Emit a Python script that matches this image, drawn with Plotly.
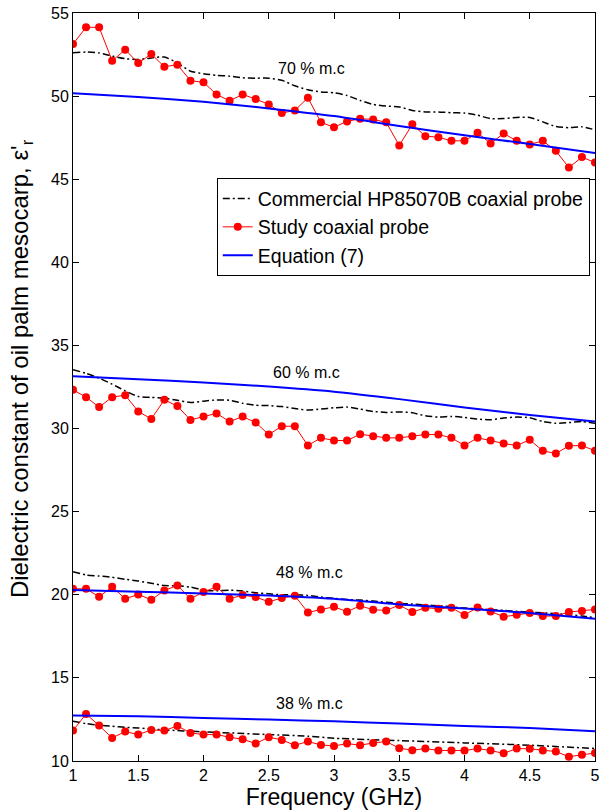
import plotly.graph_objects as go

freq = [round(1.0 + 0.1 * i, 1) for i in range(41)]

# Study coaxial probe (red)
study_70 = [53.13, 54.14, 54.14, 52.13, 52.79, 51.99, 52.53, 51.77, 51.89, 50.93,
            50.83, 50.10, 49.72, 50.10, 49.82, 49.50, 48.98, 49.14, 49.90, 48.42,
            48.13, 48.48, 48.64, 48.60, 48.42, 47.03, 48.30, 47.59, 47.53, 47.31,
            47.31, 47.79, 47.15, 47.75, 47.31, 47.09, 47.31, 46.71, 45.70, 46.33, 46.00]
study_60 = [32.33, 31.89, 31.29, 31.89, 32.01, 31.03, 30.58, 31.73, 31.35, 30.52,
            30.72, 30.91, 30.42, 30.72, 30.36, 29.64, 30.14, 30.14, 28.98, 29.44,
            29.28, 29.28, 29.66, 29.54, 29.44, 29.44, 29.54, 29.64, 29.64, 29.44,
            28.98, 29.44, 29.28, 29.10, 28.98, 29.32, 28.66, 28.50, 28.96, 28.98, 28.66]
study_48 = [20.36, 20.36, 19.88, 20.48, 19.76, 20.02, 19.70, 20.26, 20.56, 19.76,
            20.16, 20.48, 19.76, 19.98, 19.86, 19.58, 19.80, 19.94, 18.94, 19.12,
            19.28, 18.98, 19.34, 19.10, 19.06, 19.38, 18.96, 19.22, 19.16, 19.22,
            18.78, 19.24, 19.00, 18.68, 18.80, 18.90, 18.72, 18.72, 18.96, 19.02, 19.12]
study_38 = [11.83, 12.83, 12.13, 11.39, 11.77, 11.59, 11.87, 11.83, 12.11, 11.69,
            11.59, 11.59, 11.43, 11.31, 11.05, 11.43, 11.27, 10.95, 11.17, 10.97,
            10.90, 11.05, 10.95, 11.09, 11.17, 10.77, 10.65, 10.75, 10.63, 10.63,
            10.63, 10.75, 10.63, 10.46, 10.75, 10.73, 10.63, 10.57, 10.26, 10.38, 10.48]

# Commercial HP85070B coaxial probe (black dash-dot)
comm_70 = [52.61, 52.65, 52.60, 52.41, 52.25, 52.20, 52.30, 52.35, 52.00, 51.50,
           51.35, 51.25, 51.20, 51.10, 51.08, 51.08, 50.95, 50.62, 50.38, 50.25,
           50.20, 50.04, 49.74, 49.50, 49.40, 49.35, 49.14, 49.05, 49.05, 49.00,
           48.98, 48.85, 48.65, 48.65, 48.72, 48.72, 48.45, 48.17, 48.10, 48.15, 47.97]
comm_60 = [33.54, 33.32, 33.03, 32.67, 32.27, 31.93, 31.87, 31.83, 31.70, 31.57,
           31.65, 31.72, 31.70, 31.52, 31.40, 31.38, 31.32, 31.21, 31.11, 31.17,
           31.25, 31.29, 31.17, 31.03, 30.97, 31.00, 30.95, 30.77, 30.69, 30.73,
           30.67, 30.57, 30.53, 30.63, 30.69, 30.65, 30.42, 30.32, 30.36, 30.42, 30.32]
comm_48 = [21.39, 21.19, 21.13, 21.05, 20.93, 20.83, 20.69, 20.56, 20.54, 20.46,
           20.28, 20.24, 20.28, 20.22, 20.12, 20.06, 20.00, 20.00, 19.96, 19.86,
           19.78, 19.72, 19.68, 19.62, 19.55, 19.48, 19.44, 19.38, 19.34, 19.28,
           19.20, 19.16, 19.10, 19.06, 19.00, 18.96, 18.92, 18.86, 18.80, 18.72, 18.62]
comm_38_freq = [1.0, 1.1, 1.2, 1.3, 1.4, 1.5, 1.6, 1.7, 1.8, 1.9, 2.0, 2.2, 2.5, 2.8,
                3.0, 3.5, 4.0, 4.5, 5.0]
comm_38 = [12.39, 12.25, 12.15, 12.09, 12.03, 11.99, 11.93, 11.87, 11.83, 11.79,
           11.75, 11.69, 11.59, 11.49, 11.37, 11.23, 11.09, 10.95, 10.75]

# Equation (7) (blue)
eq_freq = [1.0, 1.5, 2.0, 2.5, 3.0, 3.5, 4.0, 4.5, 5.0]
eq_70 = [50.17, 49.94, 49.66, 49.26, 48.80, 48.20, 47.64, 47.12, 46.57]
eq_60 = [33.15, 32.97, 32.77, 32.53, 32.22, 31.77, 31.27, 30.81, 30.42]
eq_48 = [20.28, 20.18, 20.08, 19.96, 19.76, 19.42, 19.18, 18.90, 18.56]
eq_38 = [12.73, 12.69, 12.59, 12.49, 12.39, 12.25, 12.11, 11.99, 11.79]

labels = ["70 % m.c", "60 % m.c", "48 % m.c", "38 % m.c"]
label_x = [2.83, 2.79, 2.81, 2.81]
label_y = [51.65, 33.35, 21.33, 13.43]

groups = [
    (freq, comm_70, study_70, eq_70),
    (freq, comm_60, study_60, eq_60),
    (freq, comm_48, study_48, eq_48),
    (comm_38_freq, comm_38, study_38, eq_38),
]

fig = go.Figure()
for i, (cx, cy, sy, ey) in enumerate(groups):
    first = i == 0
    fig.add_trace(go.Scatter(
        x=cx, y=cy, mode="lines", name="Commercial HP85070B coaxial probe",
        legendgroup="c", showlegend=first,
        line=dict(color="black", width=1.5, dash="7px,3px,2px,3px", shape="spline", smoothing=0.6)))
    fig.add_trace(go.Scatter(
        x=freq, y=sy, mode="lines+markers", name="Study coaxial probe",
        legendgroup="s", showlegend=first,
        line=dict(color="#ff0000", width=1), marker=dict(color="#ff0000", size=8)))
    fig.add_trace(go.Scatter(
        x=eq_freq, y=ey, mode="lines", name="Equation (7)",
        legendgroup="e", showlegend=first,
        line=dict(color="#0000ff", width=2, shape="spline", smoothing=0.6)))

for t, lx, ly in zip(labels, label_x, label_y):
    fig.add_annotation(x=lx, y=ly, text=t, showarrow=False,
                       font=dict(size=16, color="black", family="Liberation Sans, Arial"))

# y-axis title placed as a rotated annotation
fig.add_annotation(xref="paper", yref="paper", x=-0.1, y=0.525,
                   text="Dielectric constant of oil palm mesocarp, ε'<sub>r</sub>",
                   textangle=-90, showarrow=False, xanchor="center", yanchor="middle",
                   font=dict(size=24, color="black", family="Liberation Sans, Arial"))

fig.update_layout(
    width=605, height=812,
    margin=dict(l=73, r=5, t=13, b=51),
    paper_bgcolor="white", plot_bgcolor="white",
    font=dict(family="Liberation Sans, Arial", color="black"),
    legend=dict(x=0.99, y=0.779, xanchor="right", yanchor="top",
                bordercolor="black", borderwidth=1, bgcolor="white",
                font=dict(size=19.5), tracegroupgap=0, itemwidth=30),
    xaxis=dict(range=[1, 5], tickvals=[1, 1.5, 2, 2.5, 3, 3.5, 4, 4.5, 5],
               ticktext=["1", "1.5", "2", "2.5", "3", "3.5", "4", "4.5", "5"],
               ticks="inside", ticklen=6, tickcolor="black", mirror="ticks",
               showline=True, linecolor="black", linewidth=1, showgrid=False, zeroline=False,
               tickfont=dict(size=16), ticklabeloverflow="allow",
               title=dict(text="Frequency (GHz)", font=dict(size=23), standoff=2)),
    yaxis=dict(range=[10, 55], tickvals=[10, 15, 20, 25, 30, 35, 40, 45, 50, 55],
               ticks="inside", ticklen=6, tickcolor="black", mirror="ticks",
               showline=True, linecolor="black", linewidth=1, showgrid=False, zeroline=False,
               tickfont=dict(size=16), ticklabeloverflow="allow"),
)

fig.write_html("out.html", config={"displayModeBar": False},
               post_script="document.body.style.margin='0';document.body.style.overflow='hidden';")
